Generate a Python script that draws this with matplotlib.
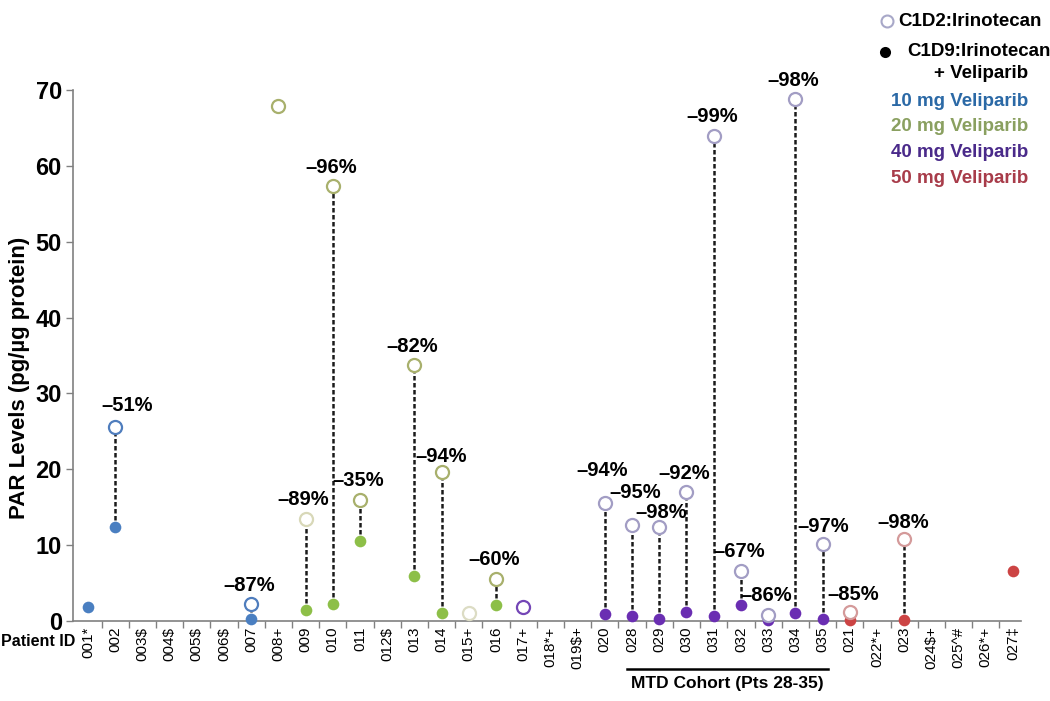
import matplotlib
matplotlib.use('Agg')
import matplotlib.pyplot as plt
import matplotlib.transforms as mtransforms

plt.rcParams['font.family'] = ['Liberation Sans', 'DejaVu Sans']

# patient order on the x axis
patients = ['001*', '002', '003$', '004$', '005$', '006$', '007', '008+', '009', '010',
            '011', '012$', '013', '014', '015+', '016', '017+', '018*+', '019$+', '020',
            '028', '029', '030', '031', '032', '033', '034', '035', '021', '022*+',
            '023', '024$+', '025^#', '026*+', '027‡']
# veliparib dose group (mg) per patient, None = no sample
dose = [10, 10, None, None, None, None, 10, 20, 20, 20,
        20, None, 20, 20, 20, 20, 40, None, None, 40,
        40, 40, 40, 40, 40, 40, 40, 40, 50, None,
        50, None, None, None, 50]
# C1D2 (irinotecan alone), open markers
c1d2 = [None, 25.6, None, None, None, None, 2.2, 67.9, 13.5, 57.3,
        16.0, None, 33.7, 19.6, 1.1, 5.6, 1.8, None, None, 15.6,
        12.7, 12.4, 17.0, 64.0, 6.6, 0.8, 68.8, 10.2, 1.2, None,
        10.8, None, None, None, None]
# C1D9 (irinotecan + veliparib), filled markers
c1d9 = [1.8, 12.4, None, None, None, None, 0.2, None, 1.5, 2.3,
        10.5, None, 6.0, 1.1, None, 2.1, None, None, None, 0.9,
        0.6, 0.2, 1.2, 0.7, 2.1, 0.1, 1.1, 0.3, 0.1, None,
        0.1, None, None, None, 6.6]
# percent change labels
pct = {'002': '–51%', '007': '–87%', '009': '–89%', '010': '–96%', '011': '–35%',
       '013': '–82%', '014': '–94%', '016': '–60%', '020': '–94%', '028': '–95%',
       '029': '–98%', '030': '–92%', '031': '–99%', '032': '–67%', '033': '–86%',
       '034': '–98%', '035': '–97%', '021': '–85%', '023': '–98%'}

# label offsets in pixels from the C1D2 point (layout only)
pct_offset = {'002': (12, 21), '020': (-3, 32), '028': (3, 32), '014': (0, 16),
              '029': (2, 14), '035': (1, 17), '021': (3, 17), '023': (-1, 17)}

fill_colors = {10: '#4a7fc1', 20: '#8dbf48', 40: '#6a2eb2', 50: '#cc4444'}
open_colors = {10: '#4f7dbd', 20: '#a8b06c', 40: '#a29dc4', 50: '#d49a9a'}
open_override = {'009': '#d8d8b8', '015+': '#dcdcc4', '017+': '#7446b6'}
legend_colors = {10: '#2b69a6', 20: '#8aa060', 40: '#4a2a8a', 50: '#a83c4a'}

fig = plt.figure(figsize=(10.5, 7.01), dpi=100)
ax = fig.add_axes([0.0695, 0.1141, 0.903, 0.7575])

x = list(range(len(patients)))
for i, p in enumerate(patients):
    if dose[i] is None:
        continue
    hi = c1d2[i]
    lo = c1d9[i]
    if hi is not None and lo is not None:
        ax.plot([i, i], [lo, hi], color='#1a1a1a', lw=1.8,
                linestyle=(0, (1.8, 1.0)), zorder=2, clip_on=False)
    if lo is not None:
        ax.plot(i, lo, 'o', ms=8.4, color=fill_colors[dose[i]], mec='none',
                zorder=3, clip_on=False)
    if hi is not None:
        ec = open_override.get(p, open_colors[dose[i]])
        ax.plot(i, hi, 'o', ms=9.4, mfc='white', mec=ec, mew=1.6,
                zorder=4, clip_on=False)
        if p in pct:
            dx, dy = pct_offset.get(p, (-2, 19))
            ax.annotate(pct[p], (i, hi), xytext=(dx, dy), textcoords='offset pixels',
                        ha='center', va='center', fontsize=14.5, fontweight='bold',
                        zorder=5)

ax.set_xlim(-0.55, 34.3)
ax.set_ylim(0, 70)
ax.set_yticks(range(0, 71, 10))
ax.tick_params(axis='y', labelsize=17, width=1, length=5, color='#808080', pad=3)
for lbl in ax.get_yticklabels():
    lbl.set_fontweight('bold')

ax.set_xticks([i + 0.5 for i in range(34)])
ax.set_xticklabels([])
ax.tick_params(axis='x', length=5, width=1, color='#808080')
ax.set_xticks(x, minor=True)
ax.set_xticklabels(patients, minor=True, rotation=90, fontsize=11)
ax.tick_params(axis='x', which='minor', length=0, pad=4)

for side in ['top', 'right']:
    ax.spines[side].set_visible(False)
for side in ['left', 'bottom']:
    ax.spines[side].set_color('#808080')
    ax.spines[side].set_linewidth(1.2)

ax.set_ylabel('PAR Levels (pg/µg protein)', fontsize=16, fontweight='bold')
ax.yaxis.set_label_coords(-0.045, 0.458)

ax.text(0.003, -0.038, 'Patient ID', transform=ax.transAxes, ha='right', va='center',
        fontsize=11.5, fontweight='bold')

trans = mtransforms.blended_transform_factory(ax.transData, ax.transAxes)
ax.plot([19.8, 27.2], [-0.090, -0.090], color='black', lw=1.8, transform=trans, clip_on=False)
ax.text(23.5, -0.118, 'MTD Cohort (Pts 28-35)', transform=trans, ha='center', va='center',
        fontsize=12.5, fontweight='bold')

# legend block, top right
fig.lines.append(plt.Line2D([887 / 1050], [1 - 21 / 701], marker='o', ms=8.6, mfc='white',
                            mec='#a8a8c8', mew=1.5, transform=fig.transFigure))
fig.text(898 / 1050, 1 - 21 / 701, 'C1D2:Irinotecan', ha='left', va='center',
         fontsize=13.5, fontweight='bold')
fig.lines.append(plt.Line2D([885 / 1050], [1 - 52 / 701], marker='o', ms=8, color='black',
                            mec='none', transform=fig.transFigure))
fig.text(907 / 1050, 1 - 52 / 701, 'C1D9:Irinotecan', ha='left', va='center',
         fontsize=13.5, fontweight='bold')
fig.text(1028 / 1050, 1 - 73 / 701, '+ Veliparib', ha='right', va='center',
         fontsize=13.5, fontweight='bold')
for k, d in enumerate([10, 20, 40, 50]):
    fig.text(1028 / 1050, 1 - (101 + 25.7 * k) / 701, '%d mg Veliparib' % d, ha='right',
             va='center', fontsize=13.5, fontweight='bold', color=legend_colors[d])

fig.savefig('out.png', dpi=100)
